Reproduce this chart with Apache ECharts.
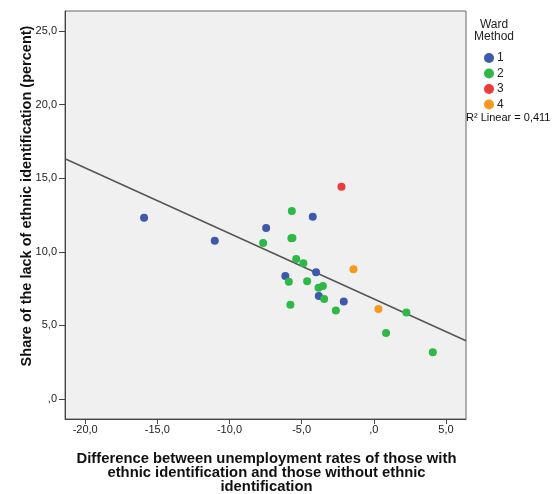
<!DOCTYPE html>
<html><head><meta charset="utf-8">
<script src="https://cdn.jsdelivr.net/npm/echarts@6/dist/echarts.min.js"></script>
<style>html,body{margin:0;padding:0;background:#fff}#c{width:554px;height:494px}</style>
</head><body><div id="c"></div>
<script>
// ---- data ----
const clusterNames = ['1', '2', '3', '4'];
const clusterColors = ['#3E58AC', '#2EB848', '#EF3B3C', '#F8991D'];
const cluster1 = [[-15.92,12.32],[-11.02,10.75],[-7.46,11.62],[-4.23,12.38],[-6.13,8.36],[-4.00,8.61],[-3.81,7.00],[-2.08,6.63]];
const cluster2 = [[-5.68,12.77],[-5.71,10.92],[-5.64,10.94],[-7.67,10.60],[-5.38,9.51],[-4.88,9.22],[-5.89,7.97],[-4.62,8.00],[-3.83,7.56],[-3.53,7.68],[-3.44,6.79],[-5.78,6.41],[-2.63,6.02],[2.26,5.87],[0.85,4.48],[4.09,3.17]];
const cluster3 = [[-2.24,14.42]];
const cluster4 = [[-1.41,8.81],[0.32,6.11]];
const xTickValues = [-20, -15, -10, -5, 0, 5];
const xTickLabels = ['-20,0', '-15,0', '-10,0', '-5,0', ',0', '5,0'];
const yTickValues = [0, 5, 10, 15, 20, 25];
const yTickLabels = [',0', '5,0', '10,0', '15,0', '20,0', '25,0'];
const xTitle = 'Difference between unemployment rates of those with\nethnic identification and those without ethnic\nidentification';
const yTitle = 'Share of the lack of ethnic identification (percent)';
const legendTitle = 'Ward\nMethod';
const r2Label = 'R² Linear = 0,411';
const xRange = [-21.40, 6.39];
const yRange = [-1.36, 26.36];

// ---- linear fit from the data ----
const clusters = [cluster1, cluster2, cluster3, cluster4];
const all = [].concat(...clusters);
const n = all.length;
const mx = all.reduce((s, p) => s + p[0], 0) / n;
const my = all.reduce((s, p) => s + p[1], 0) / n;
let sxx = 0, sxy = 0;
all.forEach(p => { sxx += (p[0] - mx) ** 2; sxy += (p[0] - mx) * (p[1] - my); });
const slope = sxy / sxx, intercept = my - slope * mx;
const fitLine = xRange.map(x => [x, intercept + slope * x]);

const FONT = "'Liberation Sans', Arial, sans-serif";
const chart = echarts.init(document.getElementById('c'));
const series = clusters.map((d, i) => ({
  name: clusterNames[i], type: 'scatter', data: d, symbolSize: 8, z: 3,
  itemStyle: { color: clusterColors[i], opacity: 1 }
}));
series.unshift({
  name: 'fit', type: 'line', data: fitLine, symbol: 'none', z: 2, silent: true,
  lineStyle: { color: '#555', width: 1.5 }
});
chart.setOption({
  animation: false,
  textStyle: { fontFamily: FONT },
  grid: { left: 65, top: 11, width: 401, height: 408, show: true, backgroundColor: '#F0F0F0', borderColor: '#666', borderWidth: 1 },
  xAxis: {
    type: 'value', min: xRange[0], max: xRange[1],
    splitLine: { show: false },
    axisLine: { show: true, onZero: false, lineStyle: { color: '#444' } },
    axisTick: { show: true, length: 5, customValues: xTickValues, lineStyle: { color: '#444' } },
    axisLabel: { customValues: xTickValues, margin: 5, fontSize: 11, color: '#222', fontFamily: FONT,
      formatter: v => xTickLabels[xTickValues.indexOf(v)] }
  },
  yAxis: {
    type: 'value', min: yRange[0], max: yRange[1],
    splitLine: { show: false },
    axisLine: { show: true, onZero: false, lineStyle: { color: '#444' } },
    axisTick: { show: true, length: 6, customValues: yTickValues, lineStyle: { color: '#444' } },
    axisLabel: { customValues: yTickValues, margin: 8, fontSize: 11, color: '#222', fontFamily: FONT,
      formatter: v => yTickLabels[yTickValues.indexOf(v)] }
  },
  legend: {
    data: clusterNames, orient: 'vertical', left: 484, top: 52, icon: 'circle',
    itemWidth: 10, itemHeight: 10, itemGap: 3.5, padding: 0,
    textStyle: { fontSize: 12, color: '#222', fontFamily: FONT, padding: [0, 0, 0, -2] }
  },
  graphic: [
    { type: 'text', x: 27, y: 196, rotation: Math.PI / 2,
      style: { text: yTitle, font: "bold 14.5px " + FONT, fill: '#111', align: 'center', verticalAlign: 'middle' } },
    { type: 'text', x: 266.5, y: 472.5,
      style: { text: xTitle, font: "bold 14.8px " + FONT, fill: '#111', align: 'center', verticalAlign: 'middle', lineHeight: 14 } },
    { type: 'text', x: 494, y: 31,
      style: { text: legendTitle, font: "12px " + FONT, fill: '#222', align: 'center', verticalAlign: 'middle', lineHeight: 12 } },
    { type: 'text', x: 466, y: 118,
      style: { text: r2Label, font: "11px " + FONT, fill: '#111', align: 'left', verticalAlign: 'middle' } }
  ],
  series: series
});
</script></body></html>
